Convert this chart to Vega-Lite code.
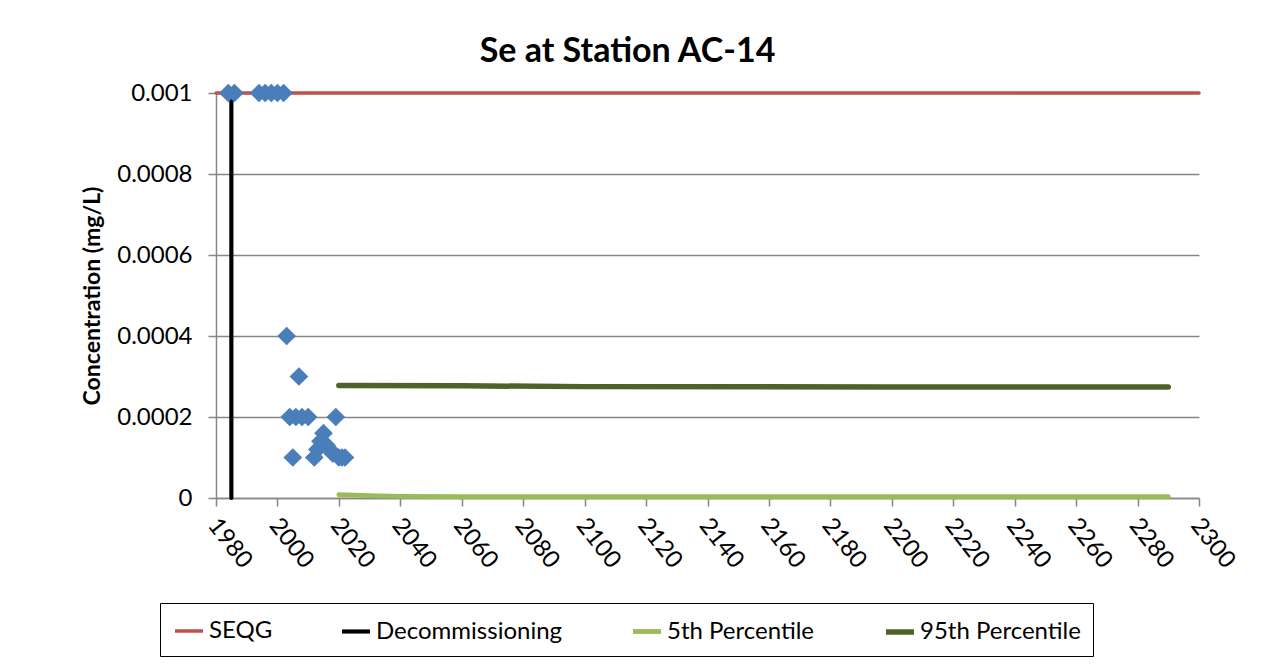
{
  "$schema": "https://vega.github.io/schema/vega-lite/v6.json",
  "width": 983,
  "height": 405,
  "autosize": "none",
  "padding": {"left": 216, "top": 93, "right": 66, "bottom": 167},
  "background": "white",
  "title": {
    "text": "Se at Station AC-14",
    "font": "Lato",
    "fontSize": 34,
    "fontWeight": "bold",
    "color": "black",
    "anchor": "middle",
    "dx": -80,
    "offset": 12
  },
  "datasets": {
    "lines": [
      {"series": "SEQG", "year": 1980, "value": 0.001, "i": 0},
      {"series": "SEQG", "year": 2300, "value": 0.001, "i": 1},
      {"series": "Decommissioning", "year": 1985, "value": 0, "i": 0},
      {"series": "Decommissioning", "year": 1985, "value": 0.001, "i": 1},
      {"series": "5th Percentile", "year": 2020, "value": 0.000008, "i": 0},
      {"series": "5th Percentile", "year": 2030, "value": 0.000006, "i": 1},
      {"series": "5th Percentile", "year": 2040, "value": 0.000004, "i": 2},
      {"series": "5th Percentile", "year": 2060, "value": 0.000003, "i": 3},
      {"series": "5th Percentile", "year": 2150, "value": 0.000003, "i": 4},
      {"series": "5th Percentile", "year": 2290, "value": 0.000003, "i": 5},
      {"series": "95th Percentile", "year": 2020, "value": 0.000278, "i": 0},
      {"series": "95th Percentile", "year": 2060, "value": 0.000277, "i": 1},
      {"series": "95th Percentile", "year": 2100, "value": 0.000275, "i": 2},
      {"series": "95th Percentile", "year": 2200, "value": 0.000274, "i": 3},
      {"series": "95th Percentile", "year": 2290, "value": 0.000274, "i": 4}
    ],
    "samples": [
      {"year": 1984, "value": 0.001},
      {"year": 1986, "value": 0.001},
      {"year": 1994, "value": 0.001},
      {"year": 1996, "value": 0.001},
      {"year": 1998, "value": 0.001},
      {"year": 2000, "value": 0.001},
      {"year": 2002, "value": 0.001},
      {"year": 2003, "value": 0.0004},
      {"year": 2004, "value": 0.0002},
      {"year": 2005, "value": 0.0001},
      {"year": 2006, "value": 0.0002},
      {"year": 2007, "value": 0.0003},
      {"year": 2008, "value": 0.0002},
      {"year": 2010, "value": 0.0002},
      {"year": 2012, "value": 0.0001},
      {"year": 2013, "value": 0.00012},
      {"year": 2014, "value": 0.00014},
      {"year": 2015, "value": 0.00016},
      {"year": 2016, "value": 0.00013},
      {"year": 2017, "value": 0.00012},
      {"year": 2018, "value": 0.00011},
      {"year": 2019, "value": 0.0002},
      {"year": 2020, "value": 0.0001},
      {"year": 2021, "value": 0.0001},
      {"year": 2022, "value": 0.0001}
    ]
  },
  "encoding": {
    "x": {
      "field": "year",
      "type": "quantitative",
      "scale": {"domain": [1980, 2300], "nice": false, "zero": false},
      "axis": {
        "title": null,
        "values": [1980, 2000, 2020, 2040, 2060, 2080, 2100, 2120, 2140, 2160, 2180, 2200, 2220, 2240, 2260, 2280, 2300],
        "format": "d",
        "grid": false,
        "tickSize": 8,
        "labelAngle": 52,
        "labelAlign": "left",
        "labelBaseline": "middle",
        "labelPadding": 15,
        "labelOffset": -4,
        "labelFlush": false,
        "labelOverlap": false
      }
    },
    "y": {
      "field": "value",
      "type": "quantitative",
      "scale": {"domain": [0, 0.001], "nice": false},
      "axis": {
        "title": "Concentration (mg/L)",
        "values": [0, 0.0002, 0.0004, 0.0006, 0.0008, 0.001],
        "format": "~g",
        "grid": true,
        "tickSize": 8,
        "labelPadding": 16,
        "titlePadding": 12
      }
    }
  },
  "layer": [
    {
      "data": {"name": "lines"},
      "mark": {"type": "line", "strokeCap": "round"},
      "encoding": {
        "color": {
          "field": "series",
          "type": "nominal",
          "scale": {
            "domain": ["SEQG", "Decommissioning", "5th Percentile", "95th Percentile"],
            "range": ["#c0504d", "#000000", "#9bbb59", "#4f6228"]
          },
          "legend": {
            "title": null,
            "orient": "none",
            "legendX": -56,
            "legendY": 510,
            "direction": "horizontal",
            "columns": 4,
            "columnPadding": 60,
            "gridAlign": "none",
            "symbolType": "stroke",
            "symbolSize": 784,
            "symbolStrokeWidth": 4.5,
            "labelFont": "Lato",
            "labelFontSize": 24,
            "labelLimit": 400,
            "labelColor": "black",
            "labelOffset": 3,
            "strokeColor": "black",
            "padding": 12
          }
        },
        "strokeWidth": {
          "field": "series",
          "type": "nominal",
          "scale": {
            "domain": ["SEQG", "Decommissioning", "5th Percentile", "95th Percentile"],
            "range": [3.5, 5.5, 5, 5]
          },
          "legend": null
        },
        "order": {"field": "i", "type": "quantitative"}
      }
    },
    {
      "data": {"name": "samples"},
      "mark": {"type": "point", "shape": "diamond", "filled": true, "size": 350, "color": "#4a7ebb", "opacity": 1},
      "encoding": {}
    }
  ],
  "config": {
    "view": {"stroke": null},
    "font": "Lato",
    "axis": {
      "domainColor": "#868686",
      "gridColor": "#868686",
      "tickColor": "#868686",
      "domainWidth": 1.5,
      "gridWidth": 1.5,
      "tickWidth": 1.5,
      "labelFont": "Lato",
      "labelFontSize": 24,
      "labelColor": "black",
      "titleFont": "Lato",
      "titleFontSize": 23,
      "titleFontWeight": "bold",
      "titleColor": "black"
    }
  }
}
